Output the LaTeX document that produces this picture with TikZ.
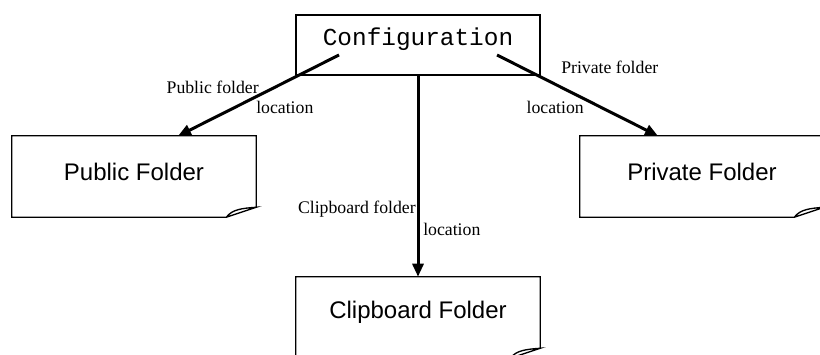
\documentclass[tikz,border=0pt]{standalone}
\usepackage{fontspec}
\setmainfont{Liberation Serif}
\setsansfont{Liberation Sans}
\setmonofont{Liberation Mono}
\usetikzlibrary{arrows.meta,calc}
\newcommand\folderoutline[1]{%
  \draw[boxline] ($(#1.south east)+(0,-10)$) -- (#1.north east) -- (#1.north west)
    -- (#1.south west) -- ($(#1.south east)+(-30,0)$) -- ($(#1.south east)+(0,-10)$)
    .. controls ($(#1.south east)+(-14,-9)$) and ($(#1.south east)+(-24,-8)$) .. ($(#1.south east)+(-30,0)$);}
\begin{document}
\begin{tikzpicture}[x=0.75pt,y=-0.75pt,
  boxline/.style={line width=1pt, line join=miter},
  folderbox/.style={rectangle, inner sep=0, minimum width=183pt, minimum height=60.75pt},
  cfgbox/.style={rectangle, draw, line width=1pt, inner sep=0, minimum width=183pt, minimum height=45pt},
  foldertext/.style={font=\sffamily\fontsize{18}{20}\selectfont, inner sep=0},
  cfgtextstyle/.style={font=\ttfamily\fontsize{18.3}{20}\selectfont, inner sep=0},
  lbl/.style={font=\rmfamily\fontsize{13.3}{15}\selectfont, inner sep=0},
  arr/.style={line width=2.25pt, -{Triangle[length=9.75pt,width=8.25pt]}}]
\useasboundingbox (0,0) rectangle (820,354);
% configuration box
\node[cfgbox] (cfg) at (418,45) {};
\node[cfgtextstyle] (cfgtext) at (418,39) {Configuration};
% folder boxes
\node[folderbox] (pub) at (134,176.5) {};
\node[folderbox] (priv) at (702,176.5) {};
\node[folderbox] (clip) at (418,317.5) {};
\folderoutline{pub}
\folderoutline{priv}
\folderoutline{clip}
\node[foldertext] (pubtext) at (134,172) {Public Folder};
\node[foldertext] (privtext) at (702,172) {Private Folder};
\node[foldertext] (cliptext) at (418,312) {Clipboard Folder};
% arrows
\coordinate (cfgL) at (339,55);
\coordinate (cfgR) at (497,55);
\coordinate (pubtip) at (178,136);
\coordinate (privtip) at (658,136);
\draw[arr] (cfgL) -- (pubtip);
\draw[arr] (cfgR) -- (privtip);
\draw[arr] (cfg.south) -- (clip.north);
% labels
\node[lbl, anchor=east] (l1) at (259,87) {Public folder};
\node[lbl, anchor=west] (l2) at (256,107) {location};
\node[lbl, anchor=west] (l3) at (561,67) {Private folder};
\node[lbl, anchor=east] (l4) at (584,107) {location};
\node[lbl, anchor=east] (l5) at (416,209) {Clipboard folder};
\node[lbl, anchor=west] (l6) at (423,229) {location};
\end{tikzpicture}
\end{document}
